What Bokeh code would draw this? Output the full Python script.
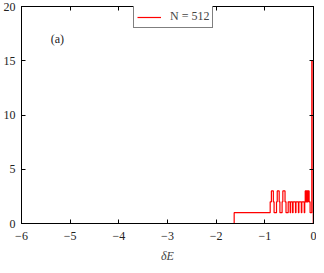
from bokeh.plotting import figure
from bokeh.models import (Range1d, LinearAxis, FixedTicker, Legend, LegendItem, Label)
from bokeh.embed import file_html
from bokeh.resources import INLINE

# Histogram of dE for N = 512 (bin edges and counts)
bin_edges = [-1.63, -0.89, -0.865, -0.825, -0.81, -0.76, -0.745, -0.705, -0.69,
             -0.645, -0.63, -0.585, -0.565, -0.52, -0.48, -0.47, -0.43, -0.42,
             -0.37, -0.36, -0.31, -0.30, -0.25, -0.24, -0.19, -0.18, -0.17,
             -0.155, -0.15, -0.135, -0.13, -0.115, -0.11, -0.09, -0.07, -0.035,
             -0.005]
counts = [1, 2, 3, 2, 1, 2, 3, 2, 1, 2, 3, 2, 1,
          2, 1, 2, 1, 2, 1, 2, 1, 2, 1, 2, 1, 2,
          3, 2, 3, 2, 3, 2, 3, 2, 1, 15]
series_label = "N = 512"
x_ticks = [-6, -5, -4, -3, -2, -1, 0]
y_ticks = [0, 5, 10, 15, 20]

FONT = "Liberation Serif"

p = figure(width=316, height=265, output_backend="svg", toolbar_location=None,
           x_range=Range1d(-6, 0), y_range=Range1d(0, 20),
           min_border_left=21, min_border_right=3, min_border_top=6,
           min_border_bottom=36, x_axis_location=None, y_axis_location=None)
p.grid.visible = False
p.outline_line_color = "black"
p.outline_line_width = 1
p.background_fill_color = "white"
p.border_fill_color = "white"

# step outline
xs = [bin_edges[0]] + bin_edges
ys = [0] + counts + [0]
r = p.step(xs, ys, mode="after", line_color="#ff0000", line_width=1.2)

def style_axis(ax, ticks, show_labels, overrides=None):
    ax.ticker = FixedTicker(ticks=ticks)
    ax.major_tick_in = 4
    ax.major_tick_out = 0
    ax.minor_tick_in = 0
    ax.minor_tick_out = 0
    ax.axis_line_color = "black"
    ax.major_tick_line_color = "black"
    ax.major_label_text_font = FONT
    ax.major_label_text_font_size = "12px"
    ax.major_label_text_color = "#222222"
    if overrides:
        ax.major_label_overrides = overrides
    if not show_labels:
        ax.major_label_overrides = {t: "" for t in ticks}
        ax.major_label_standoff = 0

xover = {t: (("\u2212" + str(abs(t))) if t < 0 else str(t)) for t in x_ticks}

bottom = LinearAxis(axis_label="\u03b4E")
style_axis(bottom, x_ticks, True, xover)
bottom.major_label_standoff = 8
bottom.axis_label_text_font = FONT
bottom.axis_label_text_font_size = "12px"
bottom.axis_label_text_font_style = "italic"
bottom.axis_label_standoff = 6
p.add_layout(bottom, "below")

left = LinearAxis()
style_axis(left, y_ticks, True)
left.major_label_standoff = 6
p.add_layout(left, "left")

top = LinearAxis()
style_axis(top, x_ticks, False)
p.add_layout(top, "above")

right = LinearAxis()
style_axis(right, y_ticks, False)
p.add_layout(right, "right")

legend = Legend(items=[LegendItem(label=series_label, renderers=[r])],
                location=(112, 195), orientation="vertical",
                border_line_color="black", border_line_width=1,
                background_fill_alpha=1.0, padding=3, margin=0, spacing=0,
                label_standoff=9, glyph_width=24, glyph_height=12,
                label_text_font=FONT, label_text_font_size="12px",
                label_height=12)
p.add_layout(legend, "center")

p.add_layout(Label(x=-5.4, y=17, text="(a)", text_font=FONT,
                   text_font_size="12px", text_baseline="middle",
                   text_color="#222222"))

open("out.html", "w").write(file_html(p, INLINE))
